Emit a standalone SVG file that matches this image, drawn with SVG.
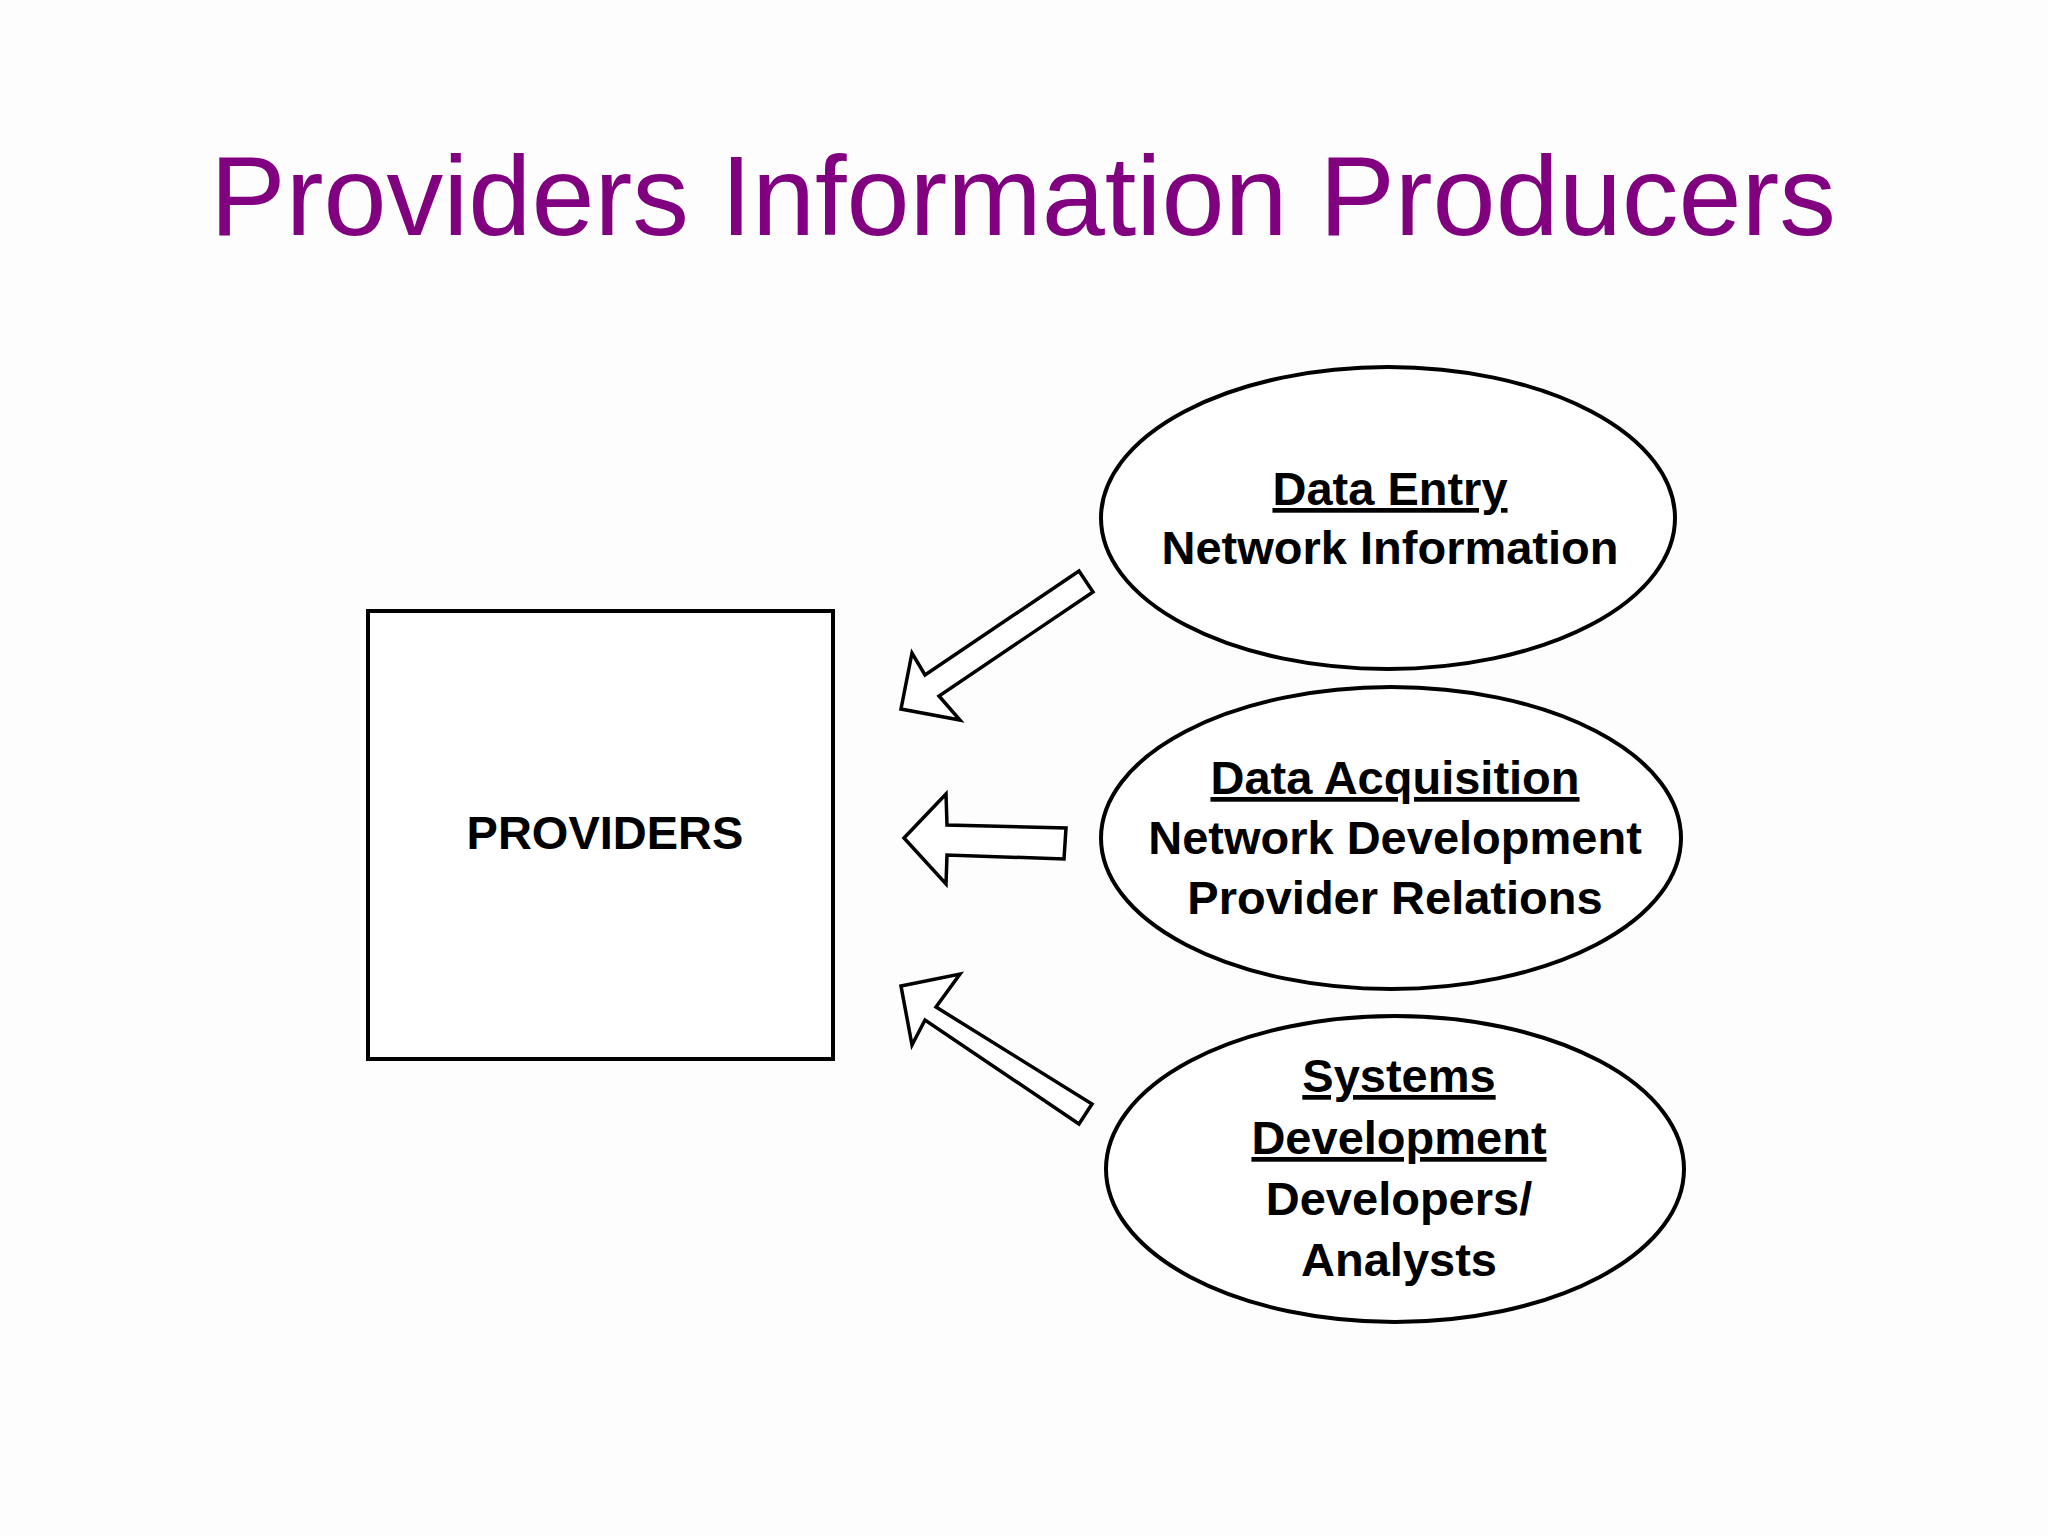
<svg xmlns="http://www.w3.org/2000/svg" width="2048" height="1536" viewBox="0 0 2048 1536">
<style>
.s{fill:#fff;stroke:#000;stroke-width:4}
.a{fill:#fff;stroke:#000;stroke-width:3.5;stroke-linejoin:miter}
.t{font-family:"Liberation Sans",Arial,sans-serif;font-weight:bold;font-size:47px;text-anchor:middle;fill:#000}
.u{text-decoration:underline}
</style>
<rect width="2048" height="1536" fill="#fdfdfd"/>
<text x="1023" y="235" font-family="'Liberation Sans',Arial,sans-serif" font-size="114" fill="#800080" text-anchor="middle" textLength="1626" lengthAdjust="spacingAndGlyphs">Providers Information Producers</text>
<g id="providers"><rect class="s" x="368" y="611" width="465" height="448"/><text class="t" x="605" y="849">PROVIDERS</text></g>
<g id="data-entry"><ellipse class="s" cx="1388" cy="518" rx="287" ry="151"/>
<text class="t" x="1390" y="505"><tspan class="u">Data Entry</tspan></text><text class="t" x="1390" y="564">Network Information</text></g>
<g id="data-acquisition"><ellipse class="s" cx="1391" cy="838" rx="290" ry="151"/>
<text class="t" x="1395" y="794"><tspan class="u">Data Acquisition</tspan></text><text class="t" x="1395" y="854">Network Development</text><text class="t" x="1395" y="914">Provider Relations</text></g>
<g id="systems-development"><ellipse class="s" cx="1395" cy="1169" rx="289" ry="153"/>
<text class="t" x="1399" y="1092"><tspan class="u">Systems</tspan></text><text class="t" x="1399" y="1154"><tspan class="u">Development</tspan></text><text class="t" x="1399" y="1215">Developers/</text><text class="t" x="1399" y="1276">Analysts</text></g>
<g id="connectors">
<polygon class="a" points="901,709 912,653 925,675 1079,571 1093,592 939,696 960,720"/>
<polygon class="a" points="904,838 946,794 947,825 1066,828 1064,859 947,855 946,884"/>
<polygon class="a" points="901,986 960,974 936,1007 1092,1104 1079,1124 925,1020 912,1045"/>
</g>
</svg>
